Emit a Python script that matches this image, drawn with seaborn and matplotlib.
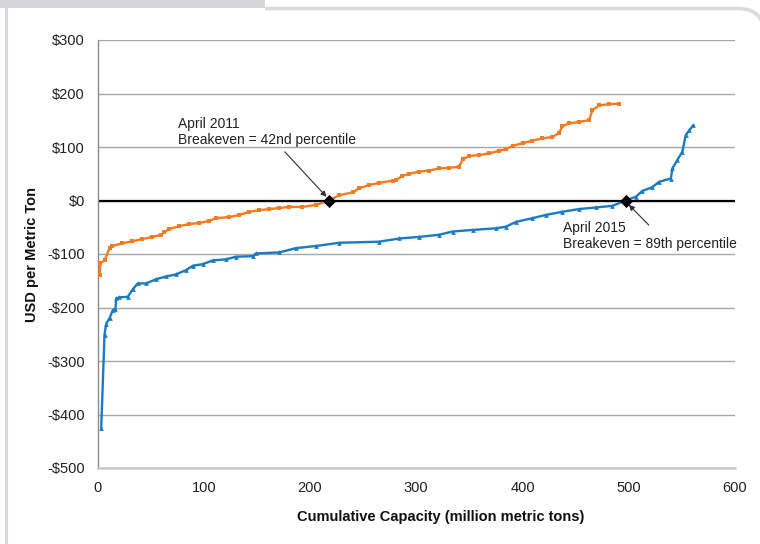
import numpy as np
import pandas as pd
import matplotlib
matplotlib.use("Agg")
import matplotlib.pyplot as plt
import seaborn as sns
from matplotlib.path import Path
from matplotlib.patches import PathPatch, Rectangle
from matplotlib.lines import Line2D
from matplotlib.transforms import IdentityTransform

# ---- data ----
x_2011 = [1.9, 2.8, 6.6, 11.3, 14.1, 23.5, 32.9, 42.3, 51.7, 60.2, 63, 67.7, 77.1, 86.5,
          95.9, 105.3, 111.9, 124.1, 133.5, 142.9, 152.4, 161.8, 171.2, 180.6, 192.8, 206,
          218, 227.6, 240.1, 246.4, 255.8, 265.2, 277.7, 281, 286.8, 293.4, 302.8, 312.2,
          321.6, 331, 340.4, 343.6, 349.9, 359.3, 368.7, 378.1, 384.4, 390.6, 400, 409.4,
          418.8, 428.2, 434.5, 437.6, 443.9, 453.3, 462.7, 465.8, 472.4, 481.8, 491.2]
y_2011 = [-139, -117, -112, -89, -85, -80, -76, -72, -68, -64, -59, -53, -48, -44,
          -42, -38, -33, -31, -27, -21, -18, -16, -14, -12, -12, -8,
          0, 10, 15, 23, 29, 33, 37, 38, 46, 50, 54, 56,
          60, 61, 63, 77, 83, 85, 88, 93, 96, 102, 107, 112,
          116, 119, 126, 139, 144, 147, 150, 169, 178, 180, 181]

x_2015 = [3.5, 6.6, 8.2, 11.3, 14.4, 16.9, 17.6, 20.7, 28.5, 33.2, 37.9, 45.8, 55.2, 64.6,
          74, 83.4, 89.6, 99, 108.4, 121, 130.4, 146.1, 149.2, 171.2, 186.9, 205.7, 227.6,
          265.2, 284, 302.8, 321.6, 334.2, 353, 375, 384.4, 393.8, 409.4, 422, 437.6, 453.3,
          469, 484.6, 497.2, 506.6, 512.9, 522.3, 528.6, 539.6, 541.1, 545.8, 550.5, 550.5,
          553.6, 556.8, 560.9]
y_2015 = [-425, -251, -230, -220, -205, -203, -183, -181, -180, -166, -155, -155, -147, -142,
          -138, -130, -122, -119, -112, -110, -105, -104, -99, -97, -89, -85, -79,
          -77, -71, -68, -64, -58, -55, -52, -49, -40, -33, -27, -21, -16,
          -13, -10, 0, 7, 18, 25, 35, 41, 60, 76, 82, 101,
          122, 131, 141]

breakeven_x = [218, 497.2]
breakeven_y = [0, 0]
labels = ["April 2011\nBreakeven = 42nd percentile", "April 2015\nBreakeven = 89th percentile"]

y_ticks = [-500, -400, -300, -200, -100, 0, 100, 200, 300]
y_ticklabels = ["-$500", "-$400", "-$300", "-$200", "-$100", "$0", "$100", "$200", "$300"]
x_ticks = [0, 100, 200, 300, 400, 500, 600]

ORANGE = "#f47b20"
BLUE = "#1a7ac2"

sns.set_theme(style="white")
plt.rcParams["font.family"] = ["Liberation Sans", "DejaVu Sans"]

W, H = 760, 544
fig = plt.figure(figsize=(W / 100, H / 100), dpi=100)
ax = fig.add_axes([97.5 / W, 1 - 468 / H, (735 - 97.5) / W, (468 - 40) / H])

ax.set_xlim(0, 600)
ax.set_ylim(-500, 300)
ax.set_yticks(y_ticks)
ax.set_yticklabels(y_ticklabels)
ax.set_xticks(x_ticks)
ax.grid(axis="y", color="#a8a8a8", linewidth=1.0)
ax.set_axisbelow(True)
for s in ["top", "right"]:
    ax.spines[s].set_visible(False)
ax.spines["left"].set_color("#8c8c8c")
ax.spines["left"].set_linewidth(1.0)
ax.spines["bottom"].set_color("#c8c8c8")
ax.spines["bottom"].set_linewidth(1.8)
ax.tick_params(axis="both", length=0, labelsize=10.5, colors="#222222")
ax.tick_params(axis="y", pad=9)
ax.tick_params(axis="x", pad=9)

# zero line
ax.axhline(0, color="black", linewidth=1.6, zorder=2)

df11 = pd.DataFrame({"x": x_2011, "y": y_2011})
df15 = pd.DataFrame({"x": x_2015, "y": y_2015})
sns.lineplot(data=df11, x="x", y="y", sort=False, color=ORANGE, linewidth=1.7,
             marker="s", markersize=3.4, markeredgewidth=0, ax=ax, zorder=3)
sns.lineplot(data=df15, x="x", y="y", sort=False, color=BLUE, linewidth=1.7,
             marker="^", markersize=3.4, markeredgewidth=0, ax=ax, zorder=3)

sns.scatterplot(x=breakeven_x, y=breakeven_y, marker="D", color="black", s=45,
                edgecolor="black", linewidth=0, ax=ax, zorder=5)

ax.set_xlabel("Cumulative Capacity (million metric tons)", fontsize=10.5,
              fontweight="bold", color="#111111")
ax.set_ylabel("USD per Metric Ton", fontsize=10.5, fontweight="bold", color="#111111")
ax.xaxis.set_label_coords((441 - 97.5) / (735 - 97.5), -(517 - 468) / (468 - 40), transform=ax.transAxes)
ax.yaxis.set_label_coords(-(97.5 - 32) / (735 - 97.5), 0.5)
ax.xaxis.label.set_va("center")
ax.yaxis.label.set_va("center")

# annotations
ax.text(75.7, 156, labels[0], ha="left", va="top", fontsize=10, color="#222222",
        linespacing=1.15)
ax.annotate("", xy=(215.5, 7), xytext=(176.3, 91),
            arrowprops=dict(arrowstyle="-|>", color="#3a2a2a", lw=0.8,
                            mutation_scale=8, shrinkA=0, shrinkB=0))
ax.text(437.8, -38.5, labels[1], ha="left", va="top", fontsize=10, color="#222222",
        linespacing=1.15)
ax.annotate("", xy=(500.1, -8), xytext=(518.9, -46),
            arrowprops=dict(arrowstyle="-|>", color="#3a2a2a", lw=0.8,
                            mutation_scale=8, shrinkA=0, shrinkB=0))

if ax.legend_:
    ax.legend_.remove()

# ---- decorative frame (pixel coordinates) ----
tab = Rectangle((0, H - 7.5), 265, 7.5, facecolor="#d5d6d8", edgecolor="none",
                transform=IdentityTransform())
fig.add_artist(tab)
left_line = Line2D([5.5, 5.5], [0, H - 7.5], color="#d8d8d8", linewidth=2.2,
                   transform=IdentityTransform())
fig.add_artist(left_line)
topy = H - 8.5
verts = [(265, topy), (738, topy), (764, topy), (764, topy - 26), (764, 0)]
codes = [Path.MOVETO, Path.LINETO, Path.CURVE3, Path.CURVE3, Path.LINETO]
frame = PathPatch(Path(verts, codes), facecolor="none", edgecolor="#dcdcdc",
                  linewidth=2.6, transform=IdentityTransform())
fig.add_artist(frame)

fig.savefig("out.png", dpi=100)
